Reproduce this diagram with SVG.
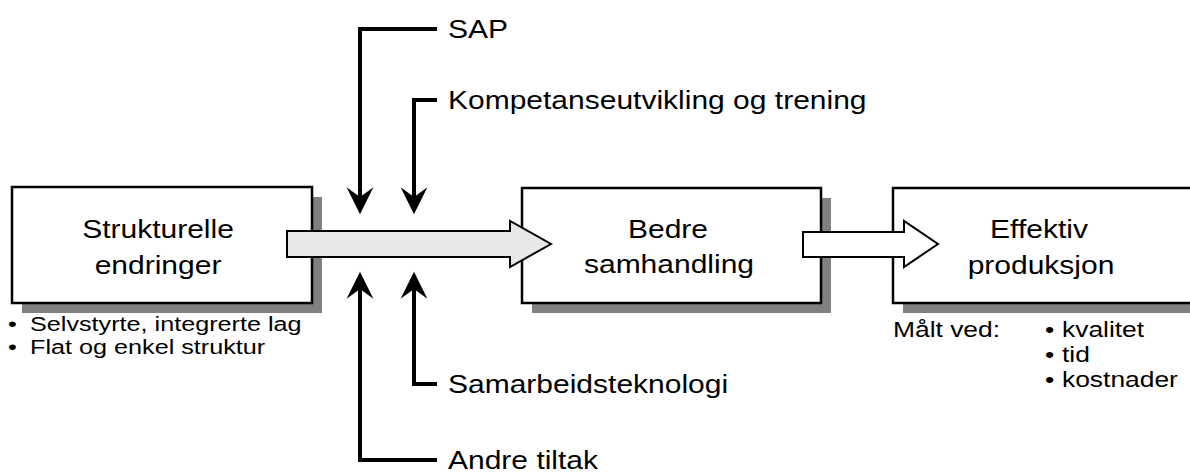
<svg xmlns="http://www.w3.org/2000/svg" width="1190" height="473" viewBox="0 0 1190 473">
  <defs>
    <style>
      .shadow { fill: #808080; }
      .box { fill: #ffffff; stroke: #000000; stroke-width: 2.5; }
      .big { fill: #e8e8e8; stroke: #000000; stroke-width: 2; stroke-linejoin: miter; }
      .big-white { fill: #ffffff; stroke: #000000; stroke-width: 2; }
      .lead { fill: none; stroke: #000000; stroke-width: 4; stroke-linejoin: miter; }
      text { font-family: "Liberation Sans", Arial, sans-serif; fill: #000000; }
      .lbl { font-size: 25px; }
      .mid { text-anchor: middle; }
      .note { font-size: 21px; }
      .note2 { font-size: 22px; }
    </style>
    <marker id="head" markerUnits="userSpaceOnUse" markerWidth="30" markerHeight="30" viewBox="0 -14 26 28" refX="9" refY="0" orient="auto">
      <path d="M0,-12.5 L25,0 L0,12.5 L9,0 Z" fill="#000000"/>
    </marker>
  </defs>

  <!-- node: Strukturelle endringer -->
  <g id="strukturelle">
    <rect class="shadow" x="22" y="197" width="300" height="116"/>
    <rect class="box" x="12" y="187" width="300" height="116"/>
    <text class="lbl mid" transform="translate(158,238) scale(1.2,1)">Strukturelle</text>
    <text class="lbl mid" transform="translate(158,274) scale(1.2,1)">endringer</text>
  </g>

  <!-- node: Bedre samhandling -->
  <g id="samhandling">
    <rect class="shadow" x="532" y="198" width="299" height="115"/>
    <rect class="box" x="522" y="188" width="299" height="115"/>
    <text class="lbl mid" transform="translate(668,238) scale(1.2,1)">Bedre</text>
    <text class="lbl mid" transform="translate(669,273) scale(1.2,1)">samhandling</text>
  </g>

  <!-- node: Effektiv produksjon -->
  <g id="produksjon">
    <rect class="shadow" x="903" y="198" width="300" height="115"/>
    <rect class="box" x="893" y="188" width="310" height="115"/>
    <text class="lbl mid" transform="translate(1039,238) scale(1.2,1)">Effektiv</text>
    <text class="lbl mid" transform="translate(1041,274) scale(1.2,1)">produksjon</text>
  </g>

  <!-- connectors -->
  <g id="connectors">
    <polygon class="big" points="287,231 510,231 510,221 551,244 510,267 510,257 287,257"/>
    <polygon class="big-white" points="803,232 904,232 904,221 938,244 904,267 904,257 803,257"/>
    <polyline class="lead" points="437,29 360,29 360,197" marker-end="url(#head)"/>
    <polyline class="lead" points="437,100 414,100 414,197" marker-end="url(#head)"/>
    <polyline class="lead" points="437,384 414,384 414,289" marker-end="url(#head)"/>
    <polyline class="lead" points="437,460 360,460 360,289" marker-end="url(#head)"/>
  </g>

  <!-- influence labels -->
  <g id="influences">
    <text class="lbl" transform="translate(448,38) scale(1.2,1)">SAP</text>
    <text class="lbl" transform="translate(448,109) scale(1.2,1)">Kompetanseutvikling og trening</text>
    <text class="lbl" transform="translate(448,393) scale(1.2,1)">Samarbeidsteknologi</text>
    <text class="lbl" transform="translate(448,469) scale(1.2,1)">Andre tiltak</text>
  </g>

  <!-- notes under the boxes -->
  <g id="notes-left">
    <text class="note" transform="translate(8,331) scale(1.2,1)">•</text>
    <text class="note" transform="translate(30,331) scale(1.2,1)">Selvstyrte, integrerte lag</text>
    <text class="note" transform="translate(8,354) scale(1.2,1)">•</text>
    <text class="note" transform="translate(30,354) scale(1.2,1)">Flat og enkel struktur</text>
  </g>
  <g id="notes-right">
    <text class="note2" transform="translate(893,337) scale(1.2,1)">Målt ved:</text>
    <text class="note2" transform="translate(1045,337) scale(1.2,1)">•</text>
    <text class="note2" transform="translate(1062,337) scale(1.2,1)">kvalitet</text>
    <text class="note2" transform="translate(1045,362) scale(1.2,1)">•</text>
    <text class="note2" transform="translate(1062,362) scale(1.2,1)">tid</text>
    <text class="note2" transform="translate(1045,387) scale(1.2,1)">•</text>
    <text class="note2" transform="translate(1062,387) scale(1.2,1)">kostnader</text>
  </g>
</svg>
